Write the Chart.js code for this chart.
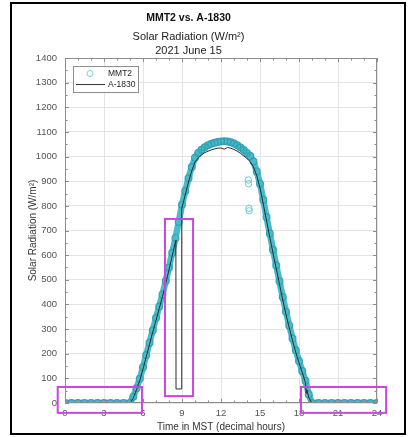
<!DOCTYPE html>
<html><head><meta charset="utf-8">
<script src="https://cdn.jsdelivr.net/npm/chart.js@4/dist/chart.umd.min.js"></script>
<style>
html,body{margin:0;padding:0;background:#fff;}
#wrap{position:relative;width:410px;height:437px;overflow:hidden;}
#frame{position:absolute;left:10px;top:2px;width:392px;height:429px;border:2px solid #000;pointer-events:none;}
canvas{position:absolute;left:0;top:0;}
</style></head><body>
<div id="wrap"><canvas id="c" width="410" height="437"></canvas><div id="frame"></div></div>
<script>
// ---- data ----
const mmt2Hours = [0,0.5,1,1.5,2,2.5,3,3.5,4,4.5,5,
  5.25,5.5,5.75,6,6.25,6.5,6.75,7,7.25,7.5,7.75,8,8.25,8.5,8.75,9,9.25,9.5,9.75,
  10,10.25,10.5,10.75,11,11.25,11.5,11.75,12,12.25,12.5,12.75,13,13.25,13.5,13.75,
  14,14.25,14.5,14.75,15,15.25,15.5,15.75,16,16.25,16.5,16.75,17,17.25,17.5,17.75,
  18,18.25,18.5,18.75,19,19.5,20,20.5,21,21.5,22,22.5,23,23.5,24];
const mmt2Values = [0,0,0,0,0,0,0,0,0,0,0,
  25,60,98,145,195,245,295,345,392,440,495,550,610,670,735,805,860,912,958,
  995,1015,1028,1038,1046,1052,1056,1059,1061,1062,1061,1058,1053,1046,1037,1027,
  1015,1002,980,940,890,825,755,688,622,558,494,430,370,315,262,214,
  170,130,90,35,0,0,0,0,0,0,0,0,0,0,0];
const mmt2OutlierHours = [14.1,14.12,14.15,14.17];
const mmt2OutlierValues = [905,890,790,780];
const a1830Hours = [0,0.5,1,1.5,2,2.5,3,3.5,4,4.5,5,
  5.25,5.5,5.75,6,6.25,6.5,6.75,7,7.25,7.5,7.75,8,8.25,8.5,8.53,8.54,8.97,8.98,9.25,9.5,9.75,
  10,10.25,10.5,10.75,11,11.25,11.5,11.75,12,12.25,12.5,12.75,13,13.25,13.5,13.75,
  14,14.25,14.5,14.75,15,15.25,15.5,15.75,16,16.25,16.5,16.75,17,17.25,17.5,17.75,
  18,18.25,18.5,18.55,18.6,18.75,19,19.5,20,20.5,21,21.5,22,22.5,23,23.5,24];
const a1830Values = [0,0,0,0,0,0,0,0,0,0,0,
  20,54,92,138,188,238,288,336,384,432,486,540,598,655,661,57,57,790,845,897,942,
  978,995,1007,1016,1022,1027,1031,1034,1035,1030,1037,1034,1029,1022,1013,1003,
  992,979,958,922,873,808,740,673,608,545,481,418,359,305,253,206,
  163,124,82,40,55,22,0,0,0,0,0,0,0,0,0,0,0];
const xTickStep = 3, yTickStep = 100;
const xMinorStep = 1, yMinorStep = 50;
// highlight rectangles (data units)
const boxXMin = [-0.56, 7.69, 18.15];
const boxXMax = [5.92, 9.85, 24.7];
const boxYMin = [-40, 28, -40];
const boxYMax = [65, 747, 65];

const pts = (xs, ys) => xs.map((h, i) => ({x: h, y: ys[i]}));
const FONT = "'Liberation Sans', Arial, Helvetica, sans-serif";
const TEAL = 'rgb(72,188,202)';
const TEAL_EDGE = 'rgb(50,162,180)';

const decorPlugin = {
  id: 'decor',
  afterDatasetsDraw(chart) {
    const {ctx, chartArea: ca, scales: {x, y}} = chart;
    ctx.save();
    ctx.strokeStyle = '#8c8c8c';
    ctx.lineWidth = 1;
    ctx.strokeRect(Math.round(ca.left) + 0.5, Math.round(ca.top) + 0.5, Math.round(ca.right - ca.left) - 1, Math.round(ca.bottom - ca.top) - 1);
    ctx.beginPath();
    for (let v = x.min; v <= x.max + 1e-9; v += xMinorStep) {
      const px = Math.round(x.getPixelForValue(v)) + 0.5;
      const len = (Math.abs(v % xTickStep) < 1e-9) ? 4 : 2.5;
      ctx.moveTo(px, ca.bottom); ctx.lineTo(px, ca.bottom - len);
      ctx.moveTo(px, ca.top); ctx.lineTo(px, ca.top + len);
    }
    for (let v = y.min; v <= y.max + 1e-9; v += yMinorStep) {
      const py = Math.round(y.getPixelForValue(v)) + 0.5;
      const len = (Math.abs(v % yTickStep) < 1e-9) ? 4 : 2.5;
      ctx.moveTo(ca.left, py); ctx.lineTo(ca.left + len, py);
      ctx.moveTo(ca.right, py); ctx.lineTo(ca.right - len, py);
    }
    ctx.stroke();
    ctx.restore();
  },
  afterDraw(chart) {
    const {ctx, chartArea: ca, scales: {x, y}} = chart;
    ctx.save();
    // legend
    const lx = ca.left + 8, ly = ca.top + 8, lw = 65, lh = 26;
    ctx.fillStyle = '#fff';
    ctx.fillRect(lx, ly, lw, lh);
    ctx.strokeStyle = '#8c8c8c';
    ctx.lineWidth = 1;
    ctx.strokeRect(lx + 0.5, ly + 0.5, lw, lh);
    const ds = chart.data.datasets;
    ctx.font = "8.5px " + FONT;
    ctx.fillStyle = '#222';
    ctx.textBaseline = 'middle';
    ctx.textAlign = 'left';
    ctx.beginPath();
    ctx.arc(lx + 17, ly + 7.5, 3, 0, Math.PI * 2);
    ctx.strokeStyle = 'rgb(120,205,215)';
    ctx.stroke();
    ctx.fillText(ds[0].label, lx + 35, ly + 7.5);
    ctx.beginPath();
    ctx.moveTo(lx + 3, ly + 18.5); ctx.lineTo(lx + 32, ly + 18.5);
    ctx.strokeStyle = '#333';
    ctx.stroke();
    ctx.fillText(ds[1].label, lx + 35, ly + 18.5);
    // highlight boxes
    ctx.strokeStyle = 'rgb(204,70,222)';
    ctx.lineWidth = 2;
    for (let i = 0; i < boxXMin.length; i++) {
      const x0 = x.getPixelForValue(boxXMin[i]), x1 = x.getPixelForValue(boxXMax[i]);
      const y0 = y.getPixelForValue(boxYMax[i]), y1 = y.getPixelForValue(boxYMin[i]);
      ctx.strokeRect(x0, y0, x1 - x0, y1 - y0);
    }
    ctx.restore();
  }
};

new Chart(document.getElementById('c'), {
  type: 'scatter',
  data: {
    datasets: [
      {
        label: 'MMT2',
        data: pts(mmt2Hours, mmt2Values),
        showLine: true,
        borderColor: TEAL,
        borderWidth: 6.5,
        pointRadius: 3.4,
        pointBorderWidth: 1.2,
        pointBorderColor: TEAL_EDGE,
        pointBackgroundColor: 'rgba(0,0,0,0)',
        order: 2
      },
      {
        label: 'A-1830',
        data: pts(a1830Hours, a1830Values),
        showLine: true,
        borderColor: '#2a2a2a',
        borderWidth: 1,
        pointRadius: 0,
        order: 1
      },
      {
        label: 'MMT2 (scatter)',
        data: pts(mmt2OutlierHours, mmt2OutlierValues),
        showLine: false,
        pointRadius: 3.2,
        pointBorderWidth: 1,
        pointBorderColor: 'rgb(110,200,212)',
        pointBackgroundColor: 'rgba(0,0,0,0)',
        order: 3
      }
    ]
  },
  options: {
    responsive: false,
    animation: false,
    events: [],
    layout: {padding: {left: 0, right: 33, top: 0, bottom: 0}},
    plugins: {
      legend: {display: false},
      tooltip: {enabled: false},
      title: {
        display: true,
        text: 'MMT2 vs. A-1830',
        color: '#111',
        font: {family: FONT, size: 10.5, weight: 'bold', lineHeight: 1.2},
        padding: {top: 12, bottom: 2}
      },
      subtitle: {
        display: true,
        text: ['Solar Radiation (W/m²)', '2021 June 15'],
        color: '#222',
        font: {family: FONT, size: 11, lineHeight: 1.27},
        padding: {top: 3, bottom: 0.5}
      }
    },
    scales: {
      x: {
        type: 'linear',
        min: 0, max: 24,
        afterFit: s => { s.height = 34; },
        ticks: {stepSize: xTickStep, padding: 5, color: '#555', font: {family: FONT, size: 9.5}, callback: v => String(v)},
        grid: {color: '#e4e4e4', drawTicks: false},
        border: {display: false},
        title: {display: true, text: 'Time in MST (decimal hours)', color: '#333', font: {family: FONT, size: 10, lineHeight: 1.2}, padding: {top: 0, bottom: 4}}
      },
      y: {
        min: 0, max: 1400,
        afterFit: s => { s.width = 65; },
        ticks: {stepSize: yTickStep, padding: 8, color: '#555', font: {family: FONT, size: 9.5}, callback: v => String(v)},
        grid: {color: '#e4e4e4', drawTicks: false},
        border: {display: false},
        title: {display: true, text: 'Solar Radiation (W/m²)', color: '#333', font: {family: FONT, size: 10, lineHeight: 1.2}, padding: {top: 27, bottom: 0}}
      }
    }
  },
  plugins: [decorPlugin]
});
</script>
</body></html>
